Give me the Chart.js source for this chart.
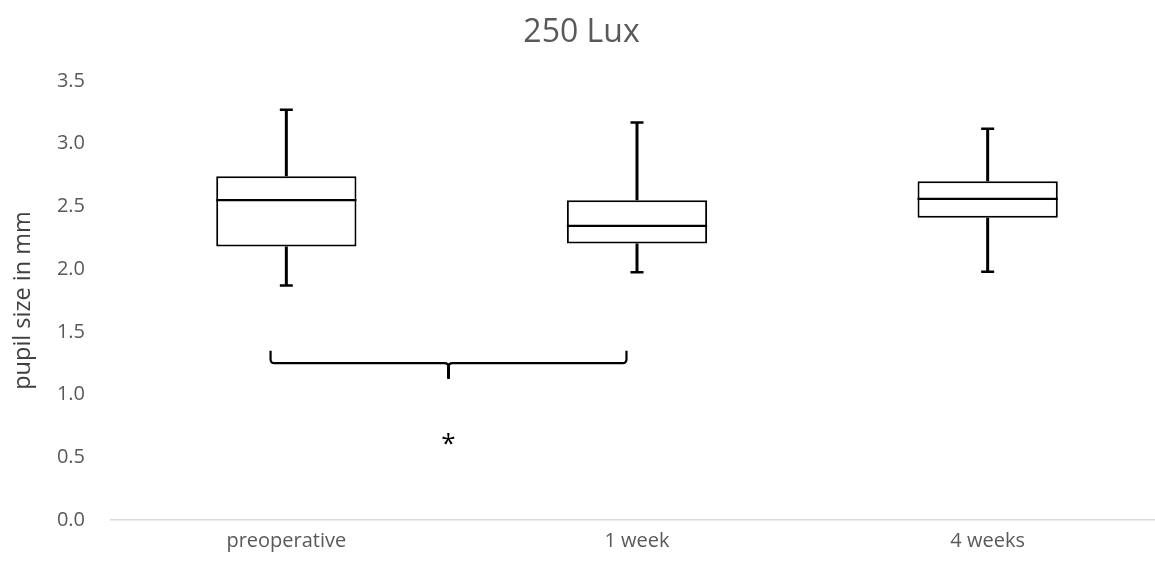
<!DOCTYPE html>
<html>
<head>
<meta charset="utf-8">
<title>250 Lux</title>
<script src="https://cdn.jsdelivr.net/npm/chart.js@4.4.1/dist/chart.umd.min.js"></script>
<style>
  html, body { margin: 0; padding: 0; background: #ffffff; overflow: hidden; }
  #wrap { width: 1163px; height: 571px; }
</style>
</head>
<body>
<div id="wrap"><canvas id="chart" width="1163" height="571"></canvas></div>
<script>
// Pupil size (mm) at 250 lux, five-number summary per visit
const categories = ['preoperative', '1 week', '4 weeks'];
const minValues = [1.87, 1.975, 1.98];
const q1Values = [2.18, 2.205, 2.41];
const medianValues = [2.55, 2.345, 2.56];
const q3Values = [2.74, 2.55, 2.70];
const maxValues = [3.27, 3.17, 3.12];
const yTickLabels = ['0.0', '0.5', '1.0', '1.5', '2.0', '2.5', '3.0', '3.5'];

// Significance brace between preoperative and 1 week (data coordinates)
const braceX = [-0.045, 0.97];          // left end, right end (category index)
const braceY = [1.35, 1.25, 1.125];     // hook top, bar, centre tip (mm)
const starPos = [0.4625, 0.64];         // asterisk position
const starText = '*';

const FONT = 'Open Sans';
const TEXT = '#595959';

const boxPlotPlugin = {
  id: 'boxPlot',
  afterDatasetsDraw(chart) {
    const ctx = chart.ctx;
    const xs = chart.scales.x;
    const ys = chart.scales.y;
    const bars = chart.getDatasetMeta(0).data;
    ctx.save();
    ctx.strokeStyle = '#000000';
    ctx.lineCap = 'butt';
    bars.forEach((bar, i) => {
      const cx = bar.x;
      const half = bar.width / 2;
      const yMed = ys.getPixelForValue(medianValues[i]);
      const yQ1 = ys.getPixelForValue(q1Values[i]);
      const yQ3 = ys.getPixelForValue(q3Values[i]);
      const yMin = ys.getPixelForValue(minValues[i]);
      const yMax = ys.getPixelForValue(maxValues[i]);
      // median
      ctx.lineWidth = 2.2;
      ctx.beginPath();
      ctx.moveTo(cx - half, yMed);
      ctx.lineTo(cx + half, yMed);
      ctx.stroke();
      // whiskers
      ctx.lineWidth = 3;
      ctx.beginPath();
      ctx.moveTo(cx, yQ3);
      ctx.lineTo(cx, yMax);
      ctx.moveTo(cx, yQ1);
      ctx.lineTo(cx, yMin);
      ctx.stroke();
      // caps
      ctx.lineWidth = 2.5;
      ctx.beginPath();
      ctx.moveTo(cx - 6.5, yMax);
      ctx.lineTo(cx + 6.5, yMax);
      ctx.moveTo(cx - 6.5, yMin);
      ctx.lineTo(cx + 6.5, yMin);
      ctx.stroke();
    });

    // brace
    const xl = xs.getPixelForValue(braceX[0]);
    const xr = xs.getPixelForValue(braceX[1]);
    const xc = (xl + xr) / 2;
    const yTop = ys.getPixelForValue(braceY[0]);
    const yBar = ys.getPixelForValue(braceY[1]);
    const yTip = ys.getPixelForValue(braceY[2]);
    const r = 4;
    ctx.lineWidth = 2.2;
    ctx.lineJoin = 'round';
    ctx.beginPath();
    ctx.moveTo(xl, yTop);
    ctx.lineTo(xl, yBar - r);
    ctx.quadraticCurveTo(xl, yBar, xl + r, yBar);
    ctx.lineTo(xc - r, yBar);
    ctx.quadraticCurveTo(xc, yBar, xc, yBar + r);
    ctx.moveTo(xr, yTop);
    ctx.lineTo(xr, yBar - r);
    ctx.quadraticCurveTo(xr, yBar, xr - r, yBar);
    ctx.lineTo(xc + r, yBar);
    ctx.quadraticCurveTo(xc, yBar, xc, yBar + r);
    ctx.stroke();
    ctx.lineWidth = 3;
    ctx.beginPath();
    ctx.moveTo(xc, yBar + r - 1);
    ctx.lineTo(xc, yTip);
    ctx.stroke();

    // asterisk
    ctx.fillStyle = '#000000';
    ctx.font = '26px "' + FONT + '"';
    ctx.textAlign = 'center';
    ctx.textBaseline = 'middle';
    ctx.fillText(starText, xs.getPixelForValue(starPos[0]), ys.getPixelForValue(starPos[1]) + 5);
    ctx.restore();
  }
};

new Chart(document.getElementById('chart'), {
  type: 'bar',
  data: {
    labels: categories,
    datasets: [{
      data: categories.map((_, i) => [q1Values[i], q3Values[i]]),
      backgroundColor: '#ffffff',
      borderColor: '#000000',
      borderWidth: 2,
      borderSkipped: false,
      barPercentage: 0.4,
      categoryPercentage: 1
    }]
  },
  options: {
    responsive: false,
    animation: false,
    layout: { padding: 0 },
    plugins: {
      legend: { display: false },
      tooltip: { enabled: false },
      title: {
        display: true,
        text: '250 Lux',
        color: TEXT,
        font: { family: FONT, size: 32, weight: 'normal' },
        padding: { top: 14, bottom: 28.6 }
      }
    },
    scales: {
      x: {
        offset: true,
        grid: { display: false, drawTicks: false },
        border: { display: true, color: '#d9d9d9', width: 1.5 },
        ticks: { color: TEXT, font: { family: FONT, size: 20 }, padding: 9 },
        afterFit: s => { s.height = 51; }
      },
      y: {
        min: 0,
        max: 3.5,
        grid: { display: false, drawTicks: false },
        border: { display: false },
        ticks: {
          stepSize: 0.5,
          color: TEXT,
          font: { family: FONT, size: 20 },
          padding: 26,
          callback: (v, i) => yTickLabels[i]
        },
        title: {
          display: true,
          text: 'pupil size in mm',
          color: '#404040',
          font: { family: FONT, size: 23.5 },
          padding: { top: 9, bottom: 0 }
        },
        afterFit: s => { s.width = 111; }
      }
    }
  },
  plugins: [boxPlotPlugin]
});
</script>
</body>
</html>
